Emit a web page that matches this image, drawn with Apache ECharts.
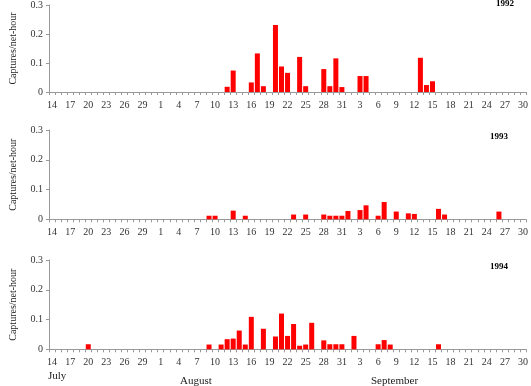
<!DOCTYPE html>
<html><head><meta charset="utf-8">
<script src="https://cdn.jsdelivr.net/npm/echarts@6/dist/echarts.min.js"></script>
<style>html,body{margin:0;padding:0;background:#fff}#c{width:531px;height:386px}</style>
</head><body><div id="c"></div>
<script>
// Categories: July 14 – September 30 (month-day keys)
const categories = [
 "7-14","7-15","7-16","7-17","7-18","7-19","7-20","7-21","7-22","7-23","7-24","7-25","7-26","7-27","7-28","7-29","7-30","7-31",
 "8-1","8-2","8-3","8-4","8-5","8-6","8-7","8-8","8-9","8-10","8-11","8-12","8-13","8-14","8-15","8-16","8-17","8-18","8-19","8-20",
 "8-21","8-22","8-23","8-24","8-25","8-26","8-27","8-28","8-29","8-30","8-31",
 "9-1","9-2","9-3","9-4","9-5","9-6","9-7","9-8","9-9","9-10","9-11","9-12","9-13","9-14","9-15","9-16","9-17","9-18","9-19","9-20",
 "9-21","9-22","9-23","9-24","9-25","9-26","9-27","9-28","9-29","9-30"
];
const years = ["1992","1993","1994"];
const yTicks = [0, 0.1, 0.2, 0.3];
const monthLabels = ["July","August","September"];

const data1992 = [["8-12",0.018],["8-13",0.074],["8-16",0.033],["8-17",0.133],["8-18",0.020],
 ["8-20",0.231],["8-21",0.088],["8-22",0.066],["8-24",0.121],["8-25",0.020],["8-28",0.079],
 ["8-29",0.020],["8-30",0.116],["8-31",0.017],["9-3",0.055],["9-4",0.055],["9-13",0.118],
 ["9-14",0.024],["9-15",0.037]];
const data1993 = [["8-9",0.012],["8-10",0.012],["8-13",0.029],["8-15",0.012],["8-23",0.016],
 ["8-25",0.016],["8-28",0.016],["8-29",0.012],["8-30",0.012],["8-31",0.012],["9-1",0.028],
 ["9-3",0.031],["9-4",0.047],["9-6",0.012],["9-7",0.058],["9-9",0.026],["9-11",0.020],
 ["9-12",0.018],["9-16",0.035],["9-17",0.016],["9-26",0.026]];
const data1994 = [["7-20",0.017],["8-9",0.016],["8-11",0.016],["8-12",0.034],["8-13",0.036],
 ["8-14",0.063],["8-15",0.016],["8-16",0.109],["8-18",0.069],["8-20",0.043],["8-21",0.120],
 ["8-22",0.045],["8-23",0.085],["8-24",0.012],["8-25",0.016],["8-26",0.089],["8-28",0.030],
 ["8-29",0.017],["8-30",0.017],["8-31",0.017],["9-2",0.045],["9-6",0.017],["9-7",0.031],
 ["9-8",0.016],["9-16",0.017]];
const allData = [data1992, data1993, data1994];

function toSeries(pairs){
  const arr = categories.map(() => 0);
  pairs.forEach(([k,v]) => { const i = categories.indexOf(k); if (i >= 0) arr[i] = v; });
  return arr;
}

const font = '"Liberation Serif","Times New Roman",serif';
const grids = [], xAxes = [], yAxes = [], series = [], titles = [];
const tops = [3, 130, 260];
const heights = [89, 89.3, 89.3];
const titleTops = [-1, 132, 262];
years.forEach((yr, i) => {
  grids.push({left: 42, width: 488, top: tops[i], height: heights[i]});
  xAxes.push({
    type: 'category', gridIndex: i, data: categories, boundaryGap: true,
    axisLine: {lineStyle: {color: '#999', width: 1}},
    axisTick: {show: true, interval: 0, length: 3, lineStyle: {color: '#999'}},
    axisLabel: {interval: 2, fontFamily: font, fontSize: 10, color: '#333', margin: 8,
      formatter: v => v.split('-')[1]}
  });
  yAxes.push({
    type: 'value', gridIndex: i, min: 0, max: 0.3, interval: 0.1,
    name: 'Captures/net-hour', nameLocation: 'middle', nameGap: 31,
    nameTextStyle: {fontFamily: font, fontSize: 10, color: '#222'},
    axisLine: {show: true, lineStyle: {color: '#999'}},
    axisTick: {show: true, length: 3, lineStyle: {color: '#999'}},
    splitLine: {show: false},
    axisLabel: {fontFamily: font, fontSize: 10, color: '#333', margin: 6,
      formatter: v => yTicks.includes(Math.round(v*10)/10) ? String(Math.round(v*10)/10) : ''}
  });
  series.push({
    type: 'bar', xAxisIndex: i, yAxisIndex: i, data: toSeries(allData[i]),
    barWidth: 5, itemStyle: {color: '#ff0000'}, silent: true
  });
  titles.push({text: yr, right: i === 0 ? 17 : 23, top: titleTops[i], padding: 0,
    textStyle: {fontFamily: font, fontSize: 9, fontWeight: 'bold', color: '#000'}});
});

const chart = echarts.init(document.getElementById('c'), null, {renderer: 'canvas'});
chart.setOption({
  animation: false,
  title: titles,
  grid: grids, xAxis: xAxes, yAxis: yAxes, series: series,
  graphic: [
    {type: 'text', left: 48, top: 371, style: {text: monthLabels[0], font: '11px ' + font, fill: '#222'}},
    {type: 'text', left: 180, top: 376, style: {text: monthLabels[1], font: '11px ' + font, fill: '#222'}},
    {type: 'text', left: 371, top: 376, style: {text: monthLabels[2], font: '11px ' + font, fill: '#222'}}
  ]
});
</script></body></html>
